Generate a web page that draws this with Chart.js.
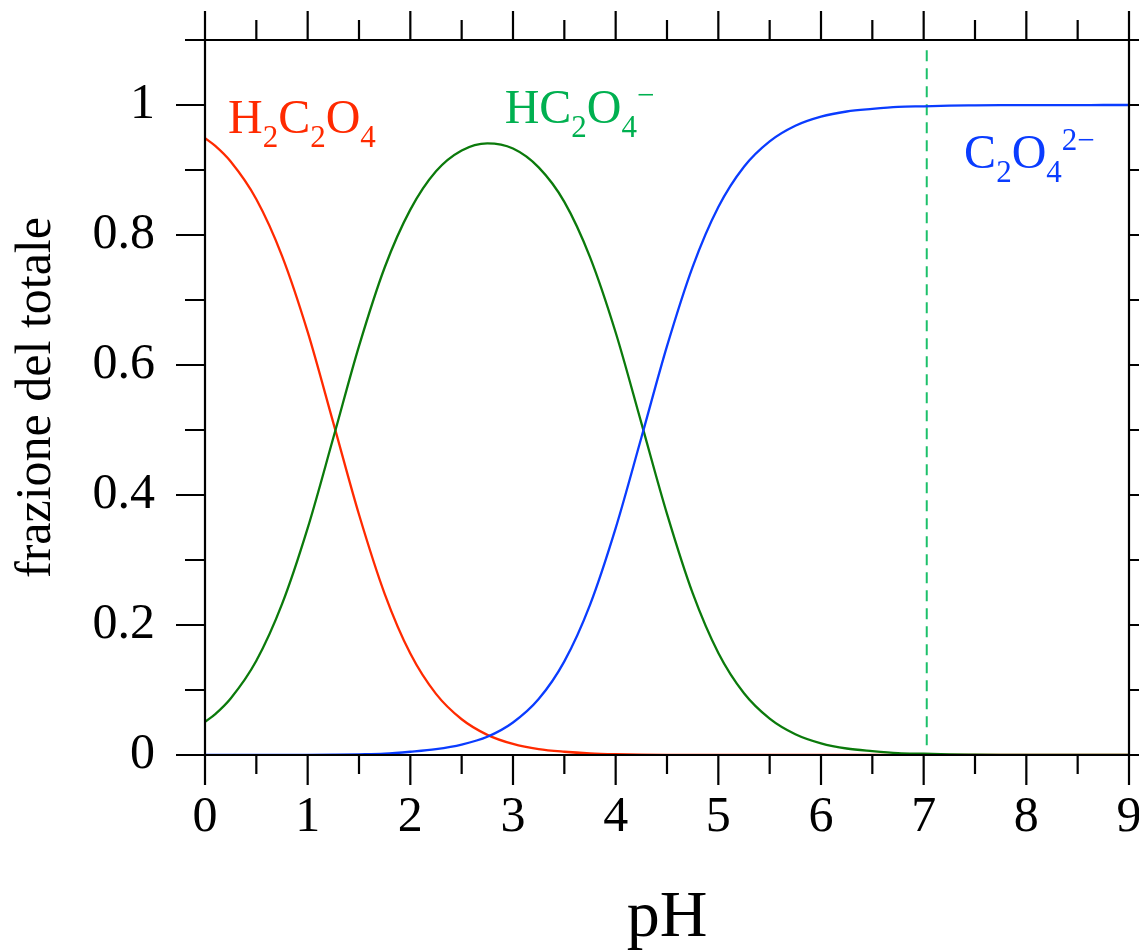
<!DOCTYPE html>
<html><head><meta charset="utf-8">
<script src="https://cdn.jsdelivr.net/npm/chart.js@4/dist/chart.umd.min.js"></script>
<style>html,body{margin:0;padding:0;background:#fff;overflow:hidden}</style>
</head><body>
<canvas id="c" width="1139" height="952"></canvas>
<script>
// pH grid (x values)
const pH = [0,0.1,0.25,0.5,0.75,1,1.25,1.5,1.75,2,2.25,2.5,2.75,3,3.25,3.5,3.75,4,4.25,4.5,4.75,5,5.25,5.5,5.75,6,6.25,6.5,6.75,7,7.25,7.5,7.75,8,8.25,8.5,8.75,9];
// fraction of H2C2O4
const fracH2C2O4 = [0.949,0.937,0.913,0.855,0.768,0.651,0.511,0.370,0.248,0.156,0.094,0.055,0.031,0.017,0.009,0.005,0.0025,0.0012,0.0005,0.0002,0.0001,0,0,0,0,0,0,0,0,0,0,0,0,0,0,0,0,0];
// fraction of HC2O4-
const fracHC2O4 = [0.051,0.063,0.087,0.145,0.232,0.349,0.488,0.629,0.750,0.839,0.898,0.930,0.941,0.933,0.904,0.851,0.766,0.650,0.511,0.371,0.249,0.157,0.095,0.056,0.032,0.018,0.010,0.006,0.003,0.002,0.001,0.0006,0.0003,0.0002,0.0001,0.0001,0,0];
// fraction of C2O4 2-
const fracC2O4 = [0,0,0,0,0.0001,0.0002,0.0005,0.001,0.002,0.005,0.009,0.016,0.028,0.050,0.086,0.144,0.231,0.349,0.488,0.629,0.751,0.843,0.905,0.944,0.968,0.982,0.990,0.994,0.997,0.998,0.999,0.9994,0.9997,0.9998,0.9999,0.9999,1,1];
// dashed marker line (pH, y-range)
const markerX = [7.03,7.03];
const markerY = [0.015,1.085];
// tick labels
const xTickLabels = ['0','1','2','3','4','5','6','7','8','9'];
const yTickLabels = ['0','0.2','0.4','0.6','0.8','1'];

const FONT = "'Liberation Serif','Times New Roman',serif";
const RED = '#ff2a00', GREEN_LINE = '#0b7a0b', GREEN_LBL = '#00b050', BLUE = '#0a3cff', DASH = '#1cc06a';

const pts = arr => pH.map((x,i)=>({x:x,y:arr[i]}));

function richText(ctx, x, y, parts, color) {
  ctx.save();
  ctx.fillStyle = color;
  ctx.textBaseline = 'alphabetic';
  ctx.textAlign = 'left';
  let cx = x;
  for (const p of parts) {
    let size = 48, dy = 0;
    if (p.sub) { size = 31; dy = 14; }
    if (p.sup) { size = 31; dy = -18; }
    ctx.font = size + 'px ' + FONT;
    ctx.fillText(p.t, cx, y + dy);
    cx += ctx.measureText(p.t).width;
  }
  ctx.restore();
}

const framePlugin = {
  id: 'frame',
  afterDraw(chart) {
    const ctx = chart.ctx, a = chart.chartArea, xs = chart.scales.x, ys = chart.scales.y;
    ctx.save();
    ctx.strokeStyle = '#000';
    ctx.lineWidth = 2.2;
    ctx.beginPath();
    ctx.rect(a.left, a.top, a.right - a.left, a.bottom - a.top);
    ctx.stroke();
    ctx.beginPath();
    for (let v = 0; v <= 9.001; v += 0.5) {
      const px = xs.getPixelForValue(v);
      const major = Math.abs(v - Math.round(v)) < 1e-6;
      ctx.moveTo(px, a.bottom); ctx.lineTo(px, a.bottom + (major ? 30 : 19));
      ctx.moveTo(px, a.top); ctx.lineTo(px, a.top - (major ? 29 : 20));
    }
    for (let k = 0; k <= 11; k++) {
      const v = k / 10;
      const py = ys.getPixelForValue(v);
      const major = k % 2 === 0;
      ctx.moveTo(a.left, py); ctx.lineTo(a.left - (major ? 29 : 20), py);
      ctx.moveTo(a.right, py); ctx.lineTo(a.right + (major ? 29 : 20), py);
    }
    ctx.stroke();
    ctx.restore();

    richText(ctx, xs.getPixelForValue(0.224), ys.getPixelForValue(0.957),
      [{t:'H'},{t:'2',sub:true},{t:'C'},{t:'2',sub:true},{t:'O'},{t:'4',sub:true}], RED);
    richText(ctx, xs.getPixelForValue(2.919), ys.getPixelForValue(0.972),
      [{t:'HC'},{t:'2',sub:true},{t:'O'},{t:'4',sub:true},{t:'\u2212',sup:true}], GREEN_LBL);
    richText(ctx, xs.getPixelForValue(7.394), ys.getPixelForValue(0.903),
      [{t:'C'},{t:'2',sub:true},{t:'O'},{t:'4',sub:true},{t:'2\u2212',sup:true}], BLUE);
  }
};

new Chart(document.getElementById('c'), {
  type: 'line',
  data: {
    datasets: [
      {label:'C2O4 2-', data: pts(fracC2O4), borderColor: BLUE, borderWidth: 2.3, pointRadius: 0, cubicInterpolationMode: 'monotone', order: 0},
      {label:'HC2O4-', data: pts(fracHC2O4), borderColor: GREEN_LINE, borderWidth: 2.3, pointRadius: 0, cubicInterpolationMode: 'monotone', order: 1},
      {label:'H2C2O4', data: pts(fracH2C2O4), borderColor: RED, borderWidth: 2.3, pointRadius: 0, cubicInterpolationMode: 'monotone', order: 2},
      {label:'marker', data: markerX.map((x,i)=>({x:x,y:markerY[i]})), borderColor: DASH, borderWidth: 2, borderDash: [11,7], pointRadius: 0, order: 3}
    ]
  },
  options: {
    responsive: false,
    animation: false,
    devicePixelRatio: 1,
    layout: {padding: {top: 40, right: 10, left: 0, bottom: 0}},
    plugins: {legend: {display: false}, tooltip: {enabled: false}},
    scales: {
      x: {
        type: 'linear', min: 0, max: 9,
        afterFit(s){ s.height = 197; s.paddingLeft = 0; s.paddingRight = 0; },
        grid: {display: false, drawTicks: false},
        border: {display: false},
        ticks: {stepSize: 1, color: '#000', padding: 33, maxRotation: 0,
          font: {family: FONT, size: 50},
          callback: (v) => xTickLabels[Math.round(v)] },
        title: {display: true, text: 'pH', color: '#000', padding: 0,
          font: {family: FONT, size: 66, lineHeight: 1}}
      },
      y: {
        type: 'linear', min: 0, max: 1.1,
        afterFit(s){ s.width = 205; s.paddingTop = 0; s.paddingBottom = 0; },
        grid: {display: false, drawTicks: false},
        border: {display: false},
        ticks: {stepSize: 0.2, includeBounds: false, color: '#000', padding: 50,
          font: {family: FONT, size: 50},
          callback: (v) => yTickLabels[Math.round(v * 5)] },
        title: {display: true, text: 'frazione del totale', color: '#000', padding: 7,
          font: {family: FONT, size: 50, lineHeight: 1.2}}
      }
    }
  },
  plugins: [framePlugin]
});
</script>
</body></html>
